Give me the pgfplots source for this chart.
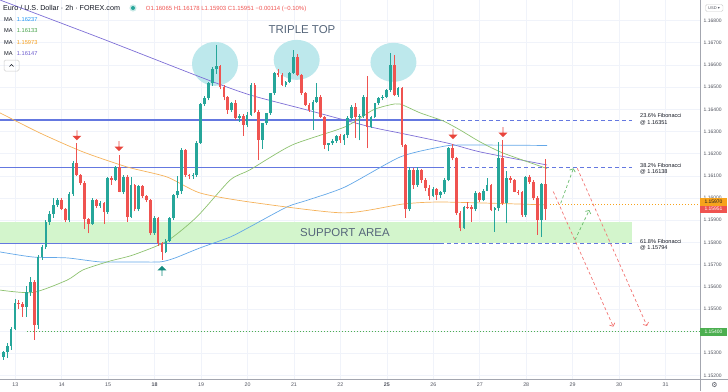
\documentclass[border=0pt]{standalone}
\usepackage{pgfplots}
\pgfplotsset{compat=1.18}
\usepackage{pgfplotstable}
\usepackage{fontspec}
\setmainfont{Liberation Sans}
\newfontfamily\symfont{DejaVu Sans}
\usetikzlibrary{shapes.arrows,arrows.meta}

\definecolor{cup}{HTML}{26A69A}
\definecolor{cdn}{HTML}{EF5350}
\definecolor{maBlue}{HTML}{64A8E8}
\definecolor{maGreen}{HTML}{8DC26F}
\definecolor{maOrange}{HTML}{F5B25A}
\definecolor{maPurple}{HTML}{7E6FD6}
\definecolor{lvl}{HTML}{6478E0}
\definecolor{supp}{HTML}{D3F5CC}
\definecolor{ell}{HTML}{BDE8EC}
\definecolor{txt}{HTML}{131722}
\definecolor{txtg}{HTML}{50535E}
\definecolor{annot}{HTML}{56667A}
\definecolor{gridc}{HTML}{F0F3FA}
\definecolor{axc}{HTML}{A3A6AF}
\definecolor{arrRed}{HTML}{E8453C}
\definecolor{arrGreen}{HTML}{138A7E}
\definecolor{lblOrange}{HTML}{F7A31C}
\definecolor{lblRed}{HTML}{EF5350}
\definecolor{lblGreen}{HTML}{4CAF50}
\definecolor{lblBlue}{HTML}{2196F3}
\definecolor{lblGr}{HTML}{43A047}
\definecolor{lblOr}{HTML}{F59E1B}
\definecolor{lblPu}{HTML}{6A5ACD}

\pgfplotstableread{
i o h l c
0 1.15285 1.15310 1.15270 1.15305
1 1.15305 1.15345 1.15280 1.15335
2 1.15335 1.15420 1.15315 1.15410
3 1.15410 1.15545 1.15405 1.15525
4 1.15525 1.15540 1.15500 1.15520
5 1.15520 1.15530 1.15465 1.15510
6 1.15510 1.15605 1.15465 1.15575
7 1.15575 1.15646 1.15560 1.15620
8 1.15620 1.15630 1.15360 1.15428
9 1.15428 1.15745 1.15410 1.15736
10 1.15736 1.15790 1.15720 1.15781
11 1.15781 1.15900 1.15770 1.15894
12 1.15894 1.15940 1.15880 1.15928
13 1.15928 1.15999 1.15910 1.15969
14 1.15969 1.16000 1.15960 1.15991
15 1.15991 1.16000 1.15945 1.15951
16 1.15951 1.15955 1.15890 1.15900
17 1.15900 1.16025 1.15890 1.16018
18 1.16018 1.16165 1.16010 1.16160
19 1.16160 1.16250 1.16100 1.16104
20 1.16104 1.16110 1.16060 1.16067
21 1.16067 1.16075 1.15859 1.15905
22 1.15905 1.15910 1.15841 1.15885
23 1.15885 1.16000 1.15880 1.15991
24 1.15991 1.15995 1.15955 1.15965
25 1.15965 1.15985 1.15955 1.15976
26 1.15976 1.15983 1.15885 1.15939
27 1.15939 1.16095 1.15930 1.16089
28 1.16089 1.16100 1.16060 1.16082
29 1.16082 1.16145 1.16075 1.16142
30 1.16142 1.16194 1.16025 1.16029
31 1.16029 1.16105 1.16020 1.16097
32 1.16097 1.16105 1.15894 1.15916
33 1.15916 1.16097 1.15910 1.16059
34 1.16059 1.16065 1.15940 1.15949
35 1.15949 1.16060 1.15940 1.16055
36 1.16055 1.16060 1.16000 1.16009
37 1.16009 1.16015 1.15980 1.15991
38 1.15991 1.15995 1.15835 1.15841
39 1.15841 1.15920 1.15835 1.15912
40 1.15912 1.15915 1.15785 1.15796
41 1.15796 1.15800 1.15721 1.15758
42 1.15758 1.15815 1.15750 1.15808
43 1.15808 1.15915 1.15800 1.15909
44 1.15909 1.16020 1.15900 1.16014
45 1.16014 1.16100 1.16000 1.16030
46 1.16030 1.16225 1.16020 1.16217
47 1.16217 1.16220 1.16095 1.16104
48 1.16104 1.16110 1.16085 1.16100
49 1.16100 1.16115 1.16085 1.16104
50 1.16104 1.16255 1.16095 1.16250
51 1.16250 1.16430 1.16245 1.16424
52 1.16424 1.16460 1.16415 1.16450
53 1.16450 1.16525 1.16440 1.16517
54 1.16517 1.16590 1.16505 1.16580
55 1.16580 1.16690 1.16560 1.16595
56 1.16595 1.16600 1.16490 1.16500
57 1.16500 1.16510 1.16440 1.16455
58 1.16455 1.16460 1.16380 1.16397
59 1.16397 1.16435 1.16390 1.16430
60 1.16430 1.16440 1.16350 1.16360
61 1.16360 1.16380 1.16345 1.16370
62 1.16370 1.16380 1.16280 1.16330
63 1.16330 1.16390 1.16320 1.16375
64 1.16375 1.16520 1.16370 1.16510
65 1.16510 1.16520 1.16385 1.16390
66 1.16390 1.16395 1.16172 1.16262
67 1.16262 1.16340 1.16220 1.16337
68 1.16337 1.16385 1.16330 1.16382
69 1.16382 1.16475 1.16375 1.16472
70 1.16472 1.16570 1.16465 1.16563
71 1.16563 1.16580 1.16545 1.16555
72 1.16555 1.16563 1.16505 1.16510
73 1.16510 1.16530 1.16500 1.16525
74 1.16525 1.16570 1.16520 1.16563
75 1.16563 1.16668 1.16560 1.16638
76 1.16638 1.16650 1.16550 1.16555
77 1.16555 1.16560 1.16465 1.16472
78 1.16472 1.16480 1.16415 1.16420
79 1.16420 1.16430 1.16390 1.16397
80 1.16397 1.16440 1.16307 1.16435
81 1.16435 1.16517 1.16430 1.16457
82 1.16457 1.16465 1.16360 1.16367
83 1.16367 1.16370 1.16220 1.16240
84 1.16240 1.16250 1.16210 1.16247
85 1.16247 1.16265 1.16240 1.16259
86 1.16259 1.16285 1.16250 1.16280
87 1.16280 1.16290 1.16250 1.16260
88 1.16260 1.16290 1.16240 1.16285
89 1.16285 1.16370 1.16270 1.16360
90 1.16360 1.16420 1.16350 1.16412
91 1.16412 1.16430 1.16270 1.16364
92 1.16364 1.16380 1.16260 1.16370
93 1.16370 1.16465 1.16360 1.16457
94 1.16457 1.16550 1.16224 1.16322
95 1.16322 1.16370 1.16315 1.16367
96 1.16367 1.16430 1.16360 1.16427
97 1.16427 1.16455 1.16420 1.16450
98 1.16450 1.16465 1.16440 1.16457
99 1.16457 1.16490 1.16450 1.16487
100 1.16487 1.16653 1.16480 1.16600
101 1.16600 1.16645 1.16460 1.16465
102 1.16465 1.16500 1.16455 1.16495
103 1.16495 1.16500 1.16230 1.16240
104 1.16240 1.16245 1.15910 1.15950
105 1.15950 1.16140 1.15940 1.16127
106 1.16127 1.16135 1.16040 1.16059
107 1.16059 1.16140 1.16050 1.16127
108 1.16127 1.16130 1.16070 1.16082
109 1.16082 1.16090 1.16030 1.16045
110 1.16045 1.16060 1.15990 1.16010
111 1.16010 1.16050 1.16005 1.16040
112 1.16040 1.16045 1.15990 1.16014
113 1.16014 1.16030 1.16000 1.16025
114 1.16025 1.16090 1.16020 1.16082
115 1.16082 1.16230 1.16075 1.16224
116 1.16224 1.16245 1.16170 1.16179
117 1.16179 1.16185 1.15925 1.15931
118 1.15931 1.15940 1.15850 1.15864
119 1.15864 1.15965 1.15860 1.15961
120 1.15961 1.15980 1.15950 1.15958
121 1.15958 1.15970 1.15894 1.15950
122 1.15950 1.16030 1.15940 1.16021
123 1.16021 1.16025 1.15980 1.15991
124 1.15991 1.16040 1.15985 1.16033
125 1.16033 1.16090 1.16030 1.16059
126 1.16059 1.16065 1.15940 1.15946
127 1.15946 1.15960 1.15848 1.15953
128 1.15953 1.16254 1.15940 1.16179
129 1.16179 1.16262 1.15970 1.15976
130 1.15976 1.16120 1.15886 1.16089
131 1.16089 1.16100 1.16070 1.16082
132 1.16082 1.16085 1.16025 1.16029
133 1.16029 1.16035 1.16015 1.16025
134 1.16025 1.16030 1.15915 1.15924
135 1.15924 1.16100 1.15915 1.16094
136 1.16094 1.16105 1.16065 1.16074
137 1.16074 1.16080 1.15990 1.16000
138 1.16000 1.16010 1.15834 1.15901
139 1.15901 1.16070 1.15826 1.16065
140 1.16065 1.16178 1.15903 1.15951
}\candles

\pgfplotsset{
  candle/.style n args={2}{forget plot, draw=none, mark=none,
    error bars/.cd, y dir=plus, y explicit, error mark=none,
    error bar style={draw=#1, line width=#2}, /pgfplots/.cd},
}

\begin{document}
\begin{tikzpicture}[x=1bp,y=1bp]
\useasboundingbox (0,-12) rectangle (728,379);
\begin{axis}[
  at={(0,0)}, anchor=south west,
  scale only axis, width=700bp, height=379bp,
  xmin=-0.85, xmax=180, ymin=1.15184, ymax=1.16893,
  axis line style={draw=none},
  tick style={draw=none},
  grid=major, major grid style={color=gridc, line width=0.6bp},
  xtick={3.1,15.1,27.1,39.1,51.1,63.1,75.1,87.1,99.1,111.1,123.1,135.1,147.1,159.1,171.1},
  xticklabels={13,14,15,\textbf{18},19,20,21,22,\textbf{25},26,27,28,29,30,31},
  xticklabel style={anchor=base, yshift=-7.3bp, font=\fontsize{5.3}{6}\selectfont, text=txtg},
  ytick={1.152,1.153,1.154,1.155,1.156,1.157,1.158,1.159,1.160,1.161,1.162,1.163,1.164,1.165,1.166,1.167,1.168},
  yticklabels={1.15200,1.15300,1.15400,1.15500,1.15600,1.15700,1.15800,1.15900,1.16000,1.16100,1.16200,1.16300,1.16400,1.16500,1.16600,1.16700,1.16800},
  yticklabel pos=right,
  yticklabel style={anchor=west, inner sep=0pt, xshift=3.5bp, font=\fontsize{5}{6}\selectfont, text=txtg},
  unbounded coords=discard,
]
% support band and ellipses
\fill[supp] (axis cs:-0.85,1.15799) rectangle (axis cs:162.45,1.15893);
\fill[ell] (axis cs:54.7,1.16605) ellipse [x radius=23bp, y radius=22bp];
\fill[ell] (axis cs:75.8,1.16623) ellipse [x radius=23bp, y radius=20bp];
\fill[ell] (axis cs:100.8,1.16612) ellipse [x radius=23bp, y radius=19.5bp];

% fib levels
\draw[lvl, line width=1.5bp] (axis cs:-0.85,1.16351) -- (axis cs:112.8,1.16351);
\draw[lvl, line width=1bp, dash pattern=on 4bp off 3bp] (axis cs:112.8,1.16351) -- (axis cs:162.45,1.16351);
\draw[lvl, line width=1.5bp] (axis cs:-0.85,1.16138) -- (axis cs:112.8,1.16138);
\draw[lvl, line width=1bp, dash pattern=on 4bp off 3bp] (axis cs:112.8,1.16138) -- (axis cs:162.45,1.16138);
\draw[lvl, line width=1.5bp] (axis cs:-0.85,1.15794) -- (axis cs:112.8,1.15794);
\draw[lvl, line width=1bp, dash pattern=on 4bp off 3bp] (axis cs:112.8,1.15794) -- (axis cs:162.45,1.15794);

% price lines
\draw[lblGreen, line width=0.8bp, dash pattern=on 1bp off 2bp] (axis cs:6.1,1.154) -- (axis cs:180,1.154);
\draw[lblOrange, line width=0.8bp, dash pattern=on 1bp off 2bp] (axis cs:141.3,1.1597) -- (axis cs:180,1.1597);

% moving averages
\addplot[maPurple, line width=0.7bp, smooth, tension=0.4] coordinates {(-0.85,1.16893) (25,1.16722) (51.6,1.16541) (63.7,1.16465) (78.5,1.16397) (94.8,1.16321) (102.5,1.16293) (114.7,1.16248) (123.2,1.16208) (140.5,1.16149)};
\addplot[maBlue, line width=0.7bp, smooth, tension=0.4] coordinates {(-0.85,1.15757) (7.7,1.15734) (16.5,1.15730) (25,1.15712) (32.7,1.15712) (40.5,1.15712) (44.4,1.15730) (50.8,1.15775) (58.6,1.15824) (63.7,1.15870) (73.3,1.15960) (78.7,1.15991) (88.3,1.16050) (102.5,1.16185) (112.8,1.16230) (118,1.16239) (140.5,1.16237)};
\addplot[maGreen, line width=0.7bp, smooth, tension=0.4] coordinates {(-0.85,1.15585) (7.7,1.15574) (16.5,1.15630) (20.6,1.15676) (27.6,1.15716) (33.5,1.15743) (42.3,1.15806) (50.0,1.15915) (58.6,1.16081) (63.7,1.16127) (74.6,1.16239) (88.3,1.16321) (95.5,1.16397) (99.9,1.16420) (102.5,1.16424) (107.7,1.16384) (113.6,1.16348) (118,1.16307) (123.2,1.16253) (129.1,1.16203) (140.5,1.16133)};
\addplot[maOrange, line width=0.7bp, smooth, tension=0.4] coordinates {(-0.85,1.16384) (9.5,1.16293) (20.6,1.16208) (32,1.16140) (42.3,1.16095) (50.8,1.16023) (63.7,1.15982) (87.8,1.15933) (103.3,1.15973) (113.6,1.15982) (140.5,1.15969)};

% candles: wicks
\addplot[restrict expr to domain={\thisrow{c}-\thisrow{o}}{0:1}, candle={cup}{0.8bp}]
  table[x=i, y=l, y error plus expr={\thisrow{h}-\thisrow{l}}] {\candles};
\addplot[restrict expr to domain={\thisrow{c}-\thisrow{o}}{-1:-0.0000001}, candle={cdn}{0.8bp}]
  table[x=i, y=l, y error plus expr={\thisrow{h}-\thisrow{l}}] {\candles};
% bodies
\addplot[restrict expr to domain={\thisrow{c}-\thisrow{o}}{0:1}, candle={cup}{2.7bp}]
  table[x=i, y=o, y error plus expr={max(\thisrow{c}-\thisrow{o},0.00003)}] {\candles};
\addplot[restrict expr to domain={\thisrow{c}-\thisrow{o}}{-1:-0.0000001}, candle={cdn}{2.7bp}]
  table[x=i, y=c, y error plus expr={max(\thisrow{o}-\thisrow{c},0.00003)}] {\candles};

% projections
\draw[cdn!80, line width=0.7bp, dash pattern=on 3bp off 2.5bp, -{Straight Barb[length=2.5bp,width=6bp]}] (axis cs:142.1,1.16029) -- (axis cs:157.6,1.15420);
\draw[cdn!80, line width=0.7bp, dash pattern=on 3bp off 2.5bp, -{Straight Barb[length=2.5bp,width=6bp]}] (axis cs:148.3,1.16134) -- (axis cs:166.3,1.15423);
\draw[lblGreen!85, line width=0.7bp, dash pattern=on 3bp off 2.5bp, -{Straight Barb[length=2.5bp,width=6bp]}] (axis cs:144.0,1.15976) -- (axis cs:147.3,1.16134);
\draw[lblGreen!85, line width=0.7bp, dash pattern=on 3bp off 2.5bp, -{Straight Barb[length=2.5bp,width=6bp]}] (axis cs:147.7,1.15811) -- (axis cs:151.4,1.15946);

% signal arrows
\node[single arrow, fill=arrRed, draw=none, rotate=-90, minimum height=10bp, minimum width=9bp, single arrow head extend=2bp, inner sep=0pt] at (axis cs:19.04,1.16284) {};
\node[single arrow, fill=arrRed, draw=none, rotate=-90, minimum height=10bp, minimum width=9bp, single arrow head extend=2bp, inner sep=0pt] at (axis cs:29.9,1.16235) {};
\node[single arrow, fill=arrRed, draw=none, rotate=-90, minimum height=10bp, minimum width=9bp, single arrow head extend=2bp, inner sep=0pt] at (axis cs:116.2,1.16289) {};
\node[single arrow, fill=arrRed, draw=none, rotate=-90, minimum height=10bp, minimum width=9bp, single arrow head extend=2bp, inner sep=0pt] at (axis cs:129.1,1.16298) {};
\node[single arrow, fill=arrGreen, draw=none, rotate=90, minimum height=10bp, minimum width=9bp, single arrow head extend=2bp, inner sep=0pt] at (axis cs:41.0,1.15671) {};
\end{axis}

% frame lines
\draw[axc, line width=0.7bp] (0,0) -- (728,0);
\draw[axc, line width=0.7bp] (700,-12) -- (700,379);

% annotations
\node[font=\fontsize{11.5}{12}\selectfont, text=annot] at (302,349) {TRIPLE TOP};
\node[font=\fontsize{11.5}{12}\selectfont, text=annot] at (345,146) {SUPPORT AREA};

\begin{scope}[every node/.style={anchor=base west, inner sep=0pt, font=\fontsize{5.6}{6}\selectfont, text=txt}]
\node at (640,261.2) {23.6\% Fibonacci};
\node at (640,254.6) {@ 1.16351};
\node at (640,212.0) {38.2\% Fibonacci};
\node at (640,205.4) {@ 1.16138};
\node at (640,136.0) {61.8\% Fibonacci};
\node at (640,129.4) {@ 1.15794};
\end{scope}

% header
\node[anchor=base west, inner sep=0pt, font=\fontsize{7.2}{8}\selectfont, text=txt] at (3,368.5) {Euro / U.S. Dollar · 2h · FOREX.com};
\fill[cup, opacity=0.25] (133,371) circle (3.6bp);
\fill[cup] (133,371) circle (2bp);
\node[anchor=base west, inner sep=0pt, font=\fontsize{6}{7}\selectfont, text=cdn] at (145.7,368.8) {O1.16065 H1.16178 L1.15903 C1.15951 −0.00114 (−0.10\%)};
\begin{scope}[every node/.style={anchor=base west, inner sep=0pt, font=\fontsize{5.7}{6}\selectfont}]
\node[text=txt] at (4,357.6) {MA}; \node[text=lblBlue] at (16.7,357.6) {1.16237};
\node[text=txt] at (4,346.3) {MA}; \node[text=lblGr] at (16.7,346.3) {1.16133};
\node[text=txt] at (4,335.0) {MA}; \node[text=lblOr] at (16.7,335.0) {1.15973};
\node[text=txt] at (4,323.7) {MA}; \node[text=lblPu] at (16.7,323.7) {1.16147};
\end{scope}
\draw[gray!40, line width=0.5bp, rounded corners=1.5bp] (4,308) rectangle (19,319);
\draw[txt, line width=0.5bp] (9.5,312.5) -- (11.5,314.5) -- (13.5,312.5);

% price scale labels
\draw[gray!40, line width=0.4bp, rounded corners=1.5bp] (705.5,367.5) rectangle (723,374.5);
\node[font=\fontsize{4}{5}\selectfont, text=txtg, inner sep=0pt] at (714,371) {USD \symfont ▾};
\fill[lblOrange] (700,173.5) rectangle (727,181);
\node[font=\fontsize{5}{6}\selectfont, text=txt, inner sep=0pt] at (713.5,177.3) {1.15970};
\fill[lblRed] (700,166) rectangle (727,173.5);
\node[font=\fontsize{5}{6}\selectfont, text=white, inner sep=0pt] at (713.5,169.8) {1.15951};
\fill[lblGreen] (700,43.5) rectangle (727,51.5);
\node[font=\fontsize{5}{6}\selectfont, text=white, inner sep=0pt] at (713.5,47.6) {1.15400};
\node[font=\symfont\fontsize{7}{8}\selectfont, text=txtg, inner sep=0pt] at (714.5,-6.5) {⚙};
\end{tikzpicture}
\end{document}
